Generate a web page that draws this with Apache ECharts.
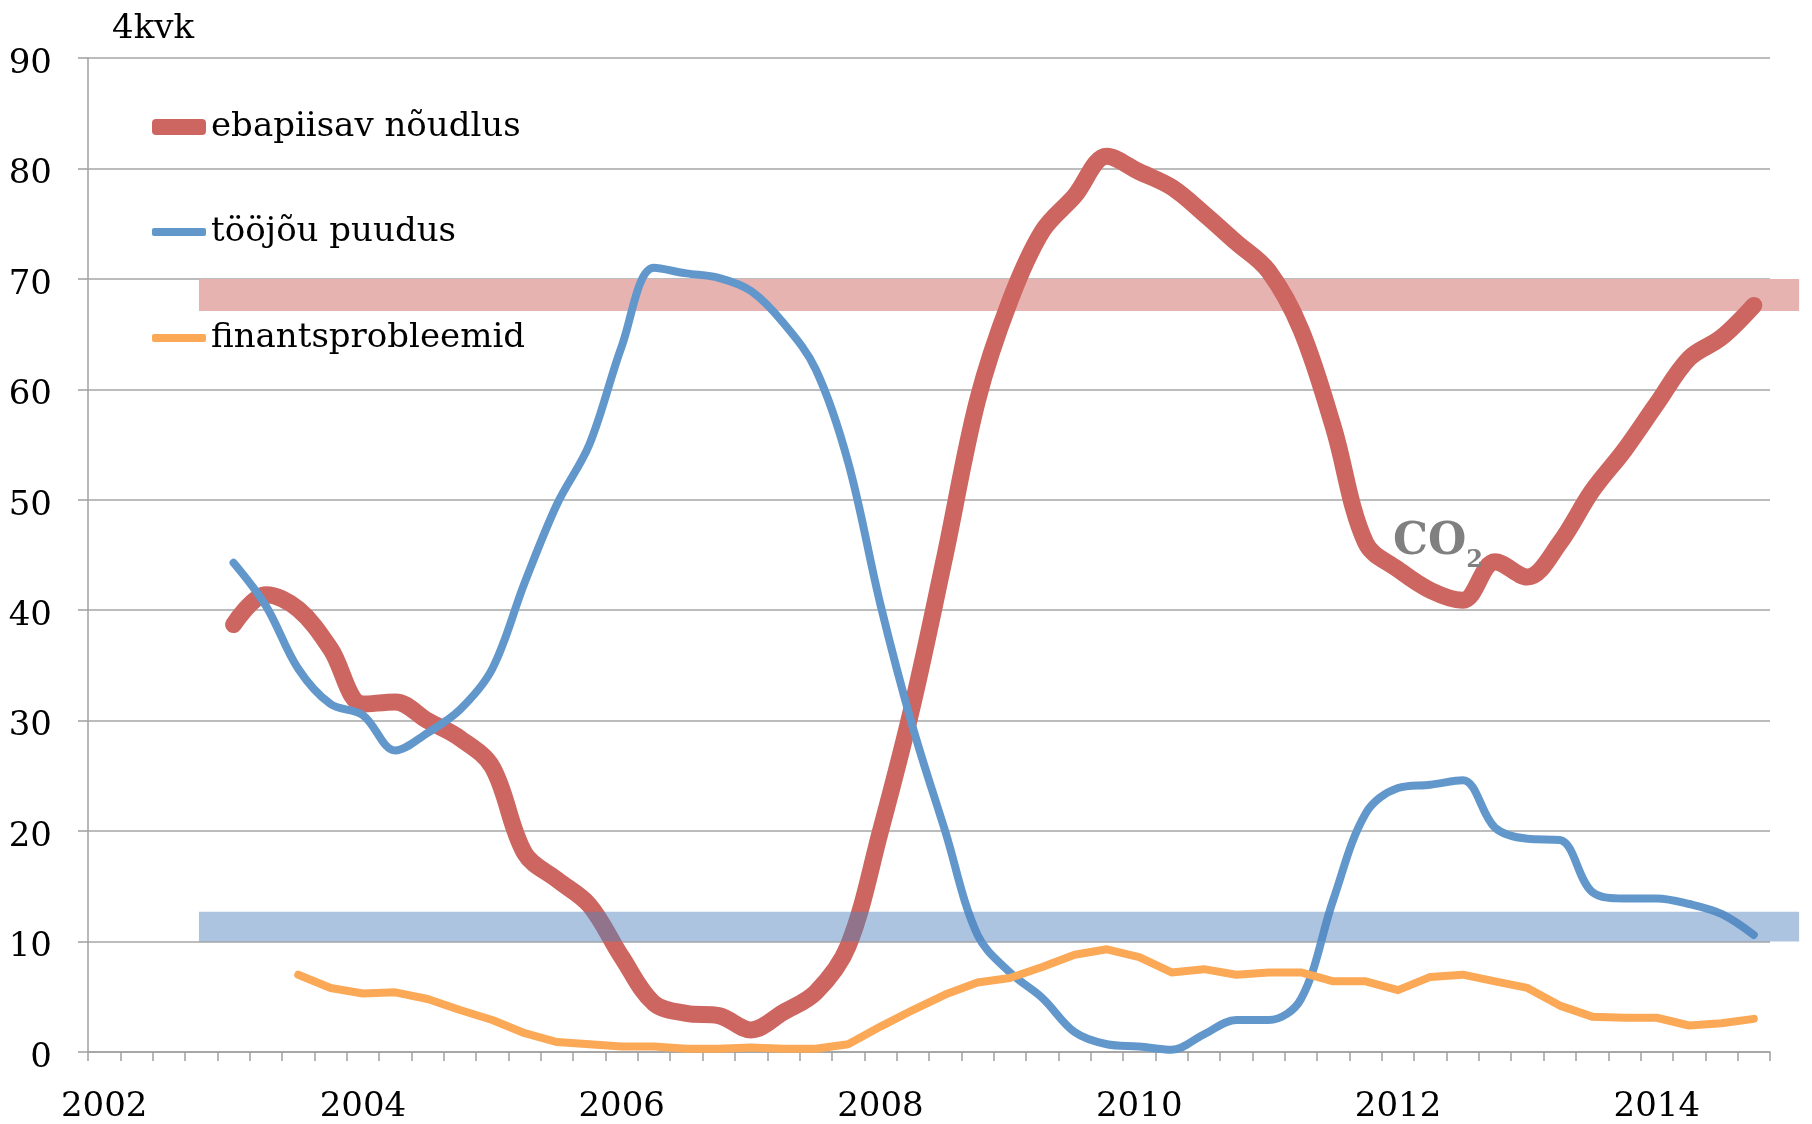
<!DOCTYPE html>
<html><head><meta charset="utf-8">
<script src="https://cdn.jsdelivr.net/npm/echarts@6/dist/echarts.min.js"></script>
<style>html,body{margin:0;padding:0;background:#fff}#c{width:1812px;height:1124px}</style>
</head><body><div id="c"></div>
<script>
// ---- data ----
const years = [2002,2003,2004,2005,2006,2007,2008,2009,2010,2011,2012,2013,2014];
const quarterNames = ['I','II','III','IV'];
const categories = [];
years.forEach(y => quarterNames.forEach(q => categories.push(y + ' ' + q)));
const xTickLabels = ['2002','2004','2006','2008','2010','2012','2014'];

const seriesNames = ['ebapiisav nõudlus','tööjõu puudus','finantsprobleemid'];

const demand = [null,null,null,null,
  38.7,41.4,40.1,36.5, 31.5,31.7,30.0,28.4, 25.8,18.0,15.6,13.3, 8.6,4.4,3.5,3.3,
  2.0,3.6,5.4,9.6, 20.0,31.5,45.0,59.0, 68.0,74.3,77.5,81.1, 79.7,78.3,75.9,73.3,
  70.7,65.4,56.6,46.1, 43.7,41.8,40.9,44.4, 43.0,46.1,50.8,54.5, 58.7,62.8,64.7,67.6];

const labour = [null,null,null,null,
  44.3,40.4,34.7,31.5, 30.5,27.3,28.9,31.0, 34.7,42.5,49.6,55.0, 63.9,71.0,70.5,70.1,
  68.9,66.0,61.8,53.4, 40.5,29.4,20.0,10.6, 7.2,4.9,1.8,0.7, 0.5,0.2,1.6,2.9,
  2.9,4.8,13.8,21.6, 23.9,24.2,24.6,20.3, 19.3,19.2,14.5,13.9, 13.9,13.4,12.5,10.6];

const finance = [null,null,null,null,null,null,
  7.0,5.8, 5.3,5.4,4.8,3.8, 2.9,1.7,0.9,0.7, 0.5,0.5,0.3,0.3, 0.4,0.3,0.3,0.7,
  2.3,3.8,5.2,6.3, 6.7,7.7,8.8,9.3, 8.6,7.2,7.5,7.0, 7.2,7.2,6.4,6.4,
  5.6,6.8,7.0,6.4, 5.8,4.2,3.2,3.1, 3.1,2.4,2.6,3.0];

// reference bands: [fromCategory, toCategory, low, high]
const demandBand = [2.93, 52.4, 67.1, 70];
const labourBand = [2.93, 52.4, 10, 12.7];

// ---- chart ----
const FONT = 'DejaVu Serif';
const chart = echarts.init(document.getElementById('c'));

function bandSeries(band, color, z) {
  return {
    type: 'custom', silent: true, clip: false, z: z,
    data: [[Math.round(band[0]), band[2]]],
    renderItem: function (params, api) {
      const w = api.size([1, 0])[0];
      const base = api.coord([Math.round(band[0]), band[3]]);
      const low = api.coord([Math.round(band[0]), band[2]]);
      const x0 = base[0] + (band[0] - Math.round(band[0])) * w;
      const x1 = base[0] + (band[1] - Math.round(band[0])) * w;
      return { type: 'rect', shape: { x: x0, y: base[1], width: x1 - x0, height: low[1] - base[1] },
               style: { fill: color } };
    }
  };
}

const legendCommon = {
  orient: 'vertical', icon: 'roundRect', itemWidth: 54,
  textStyle: { fontFamily: FONT, fontSize: 34, color: '#000', lineHeight: 40 }
};

chart.setOption({
  animation: false,
  backgroundColor: '#fff',
  title: { text: '4kvk', left: 107, top: 7,
    textStyle: { fontFamily: FONT, fontSize: 34, fontWeight: 'normal', color: '#000' } },
  legend: [
    Object.assign({}, legendCommon, { data: [seriesNames[0]], left: 147, top: 102, itemHeight: 16 }),
    Object.assign({}, legendCommon, { data: [seriesNames[1]], left: 147, top: 207, itemHeight: 8 }),
    Object.assign({}, legendCommon, { data: [seriesNames[2]], left: 147, top: 313, itemHeight: 8 })
  ],
  grid: { left: 88, right: 42, top: 58, bottom: 70 },
  xAxis: {
    type: 'category', data: categories, boundaryGap: true,
    axisLine: { lineStyle: { color: '#A0A0A0', width: 1.5 } },
    axisTick: { show: true, interval: 0, length: 9, lineStyle: { color: '#A0A0A0', width: 1.5 } },
    axisLabel: { interval: 7, margin: 38, fontFamily: FONT, fontSize: 34, color: '#000',
      formatter: function (v, i) { return xTickLabels[i / 8] || ''; } },
    splitLine: { show: false }
  },
  yAxis: {
    type: 'value', min: 0, max: 90, interval: 10,
    axisLine: { show: true, lineStyle: { color: '#A0A0A0', width: 1.5 } },
    axisTick: { show: true, length: 10, lineStyle: { color: '#A0A0A0', width: 1.5 } },
    axisLabel: { margin: 36, fontFamily: FONT, fontSize: 34, color: '#000',
      verticalAlign: 'top', lineHeight: 12 },
    splitLine: { show: true, lineStyle: { color: '#A6A6A6', width: 1.5 } }
  },
  graphic: [{
    type: 'text', left: 1393, top: 521, z: 100,
    style: {
      text: '{a|CO}{b|2}',
      rich: {
        a: { fontFamily: FONT, fontSize: 44, fontWeight: 'bold', fill: '#808080', lineHeight: 60 },
        b: { fontFamily: FONT, fontSize: 24, fontWeight: 'bold', fill: '#808080', lineHeight: 24, verticalAlign: 'bottom' }
      }
    }
  }],
  series: [
    bandSeries(demandBand, '#E6B3B0', 1),
    {
      name: seriesNames[0], type: 'line', data: demand, smooth: 0.35, showSymbol: false, symbol: 'none',
      z: 3, lineStyle: { color: '#CD6660', width: 17, cap: 'round', join: 'round' }, itemStyle: { color: '#CD6660' }
    },
    {
      name: seriesNames[1], type: 'line', data: labour, smooth: 0.35, showSymbol: false, symbol: 'none',
      z: 3, lineStyle: { color: '#6297CC', width: 8, cap: 'round', join: 'round' }, itemStyle: { color: '#6297CC' }
    },
    {
      name: seriesNames[2], type: 'line', data: finance, smooth: false, showSymbol: false, symbol: 'none',
      z: 3, lineStyle: { color: '#FBA857', width: 8, cap: 'round', join: 'round' }, itemStyle: { color: '#FBA857' }
    },
    bandSeries(labourBand, 'rgba(79,129,189,0.47)', 5)
  ]
});
</script></body></html>
